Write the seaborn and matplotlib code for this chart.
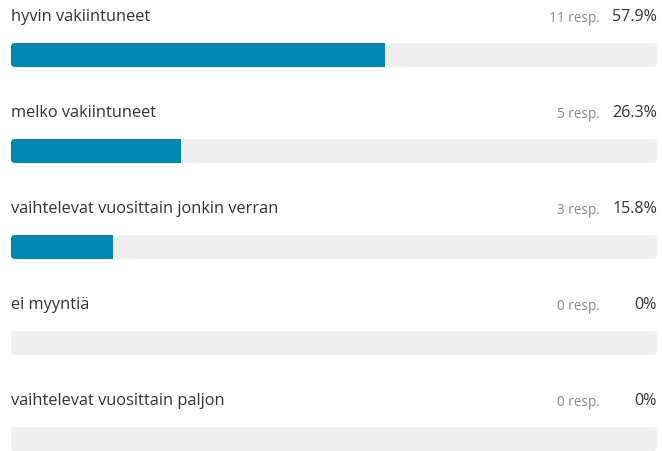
import pandas as pd
import seaborn as sns
import matplotlib.pyplot as plt
from matplotlib.patches import FancyBboxPatch

categories = ["hyvin vakiintuneet", "melko vakiintuneet",
              "vaihtelevat vuosittain jonkin verran", "ei myyntiä",
              "vaihtelevat vuosittain paljon"]
responses = [11, 5, 3, 0, 0]
percents = [57.9, 26.3, 15.8, 0, 0]
pct_labels = ["57.9%", "26.3%", "15.8%", "0%", "0%"]

df = pd.DataFrame({"cat": categories, "pct": percents, "track": [100] * len(categories)})

sns.set_theme(style="white")
plt.rcParams["font.family"] = ["Open Sans", "DejaVu Sans"]

fig = plt.figure(figsize=(6.62, 4.52), dpi=100)
ax = fig.add_axes([11 / 662, 0, 646 / 662, 1])

sns.barplot(data=df, y="cat", x="track", color="#efefef", width=0.25,
            saturation=1, linewidth=0, ax=ax, orient="h")
n_track = len(ax.patches)
sns.barplot(data=df, y="cat", x="pct", color="#0288b0", width=0.25,
            saturation=1, linewidth=0, ax=ax, orient="h")

ax.set_xlim(0, 100)
ax.set_ylim(452 / 96 - 56 / 96, -56 / 96)
ax.axis("off")

# rounded grey tracks, blue bars clipped to them
px_x = 100 / 646
px_y = 1 / 96
old_tracks = list(ax.patches[:n_track])
bars = list(ax.patches[n_track:n_track * 2])
for p, bar in zip(old_tracks, bars):
    rp = FancyBboxPatch((p.get_x(), p.get_y()), p.get_width(), p.get_height(),
                        boxstyle=f"round,pad=0,rounding_size={4 * px_x}",
                        mutation_aspect=px_y / px_x, facecolor="#efefef",
                        edgecolor="none", zorder=1)
    ax.add_patch(rp)
    p.set_visible(False)
    bar.set_zorder(2)
    bar.set_clip_path(rp)

for i, cat in enumerate(categories):
    y = i - 0.405
    ax.text(0, y, cat, ha="left", va="center", fontsize=11.8, color="#333333")
    ax.text(91.2, y + 0.01, f"{responses[i]} resp.", ha="right", va="center",
            fontsize=9.8, color="#8a8a8a")
    ax.text(100, y, pct_labels[i], ha="right", va="center", fontsize=11.6,
            color="#333333")

plt.savefig("out.png", dpi=100)
